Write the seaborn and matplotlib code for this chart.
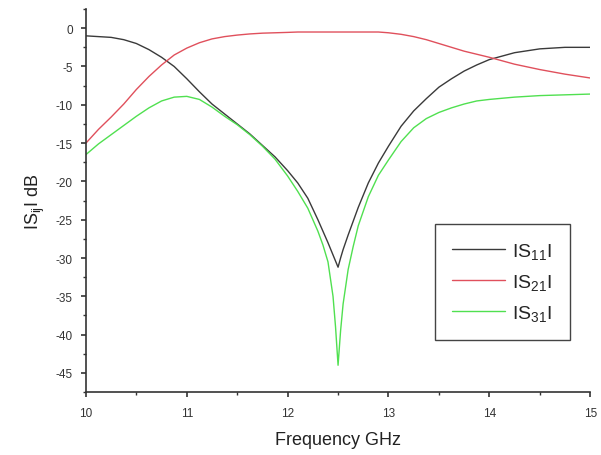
import matplotlib
matplotlib.use('Agg')
import matplotlib.pyplot as plt
from matplotlib.ticker import MultipleLocator
import pandas as pd
import seaborn as sns

# frequency grid (GHz), denser around the resonance
freq = [10.0, 10.125, 10.25, 10.375, 10.5, 10.625, 10.75, 10.875, 11.0, 11.125,
        11.25, 11.375, 11.5, 11.625, 11.75, 11.875, 12.0, 12.1, 12.2, 12.3,
        12.35, 12.4, 12.45, 12.475, 12.5, 12.525, 12.55, 12.6, 12.65, 12.7,
        12.8, 12.9, 13.0, 13.125, 13.25, 13.375, 13.5, 13.625, 13.75, 13.875,
        14.0, 14.25, 14.5, 14.75, 15.0]

s11 = [-1.0, -1.1, -1.2, -1.5, -2.0, -2.8, -3.8, -5.0, -6.6, -8.3,
       -9.9, -11.2, -12.5, -13.8, -15.3, -16.8, -18.6, -20.2, -22.2, -25.0,
       -26.5, -28.0, -29.6, -30.4, -31.2, -30.0, -28.9, -27.0, -25.2, -23.4,
       -20.2, -17.6, -15.4, -12.8, -10.8, -9.2, -7.7, -6.6, -5.6, -4.8,
       -4.1, -3.2, -2.7, -2.5, -2.5]

s21 = [-15.0, -13.2, -11.6, -9.9, -8.0, -6.3, -4.8, -3.5, -2.6, -1.9,
       -1.4, -1.1, -0.9, -0.75, -0.65, -0.6, -0.55, -0.5, -0.5, -0.5,
       -0.5, -0.5, -0.5, -0.5, -0.5, -0.5, -0.5, -0.5, -0.5, -0.5,
       -0.5, -0.5, -0.6, -0.8, -1.1, -1.5, -2.0, -2.5, -3.0, -3.4,
       -3.8, -4.7, -5.4, -6.0, -6.5]

s31 = [-16.5, -15.1, -13.9, -12.7, -11.5, -10.4, -9.5, -9.0, -8.9, -9.3,
       -10.3, -11.5, -12.6, -13.9, -15.4, -17.1, -19.3, -21.3, -23.5, -26.5,
       -28.3, -30.5, -35.0, -39.0, -44.0, -39.5, -36.0, -31.5, -28.5, -25.8,
       -22.0, -19.2, -17.2, -14.8, -13.0, -11.8, -11.0, -10.4, -9.9, -9.5,
       -9.3, -9.0, -8.8, -8.7, -8.6]

labels = ['IS$_{11}$I', 'IS$_{21}$I', 'IS$_{31}$I']
colors = ['#3a3a3a', '#e0505c', '#50e050']

df = pd.concat([
    pd.DataFrame({'freq': freq, 'db': vals, 'param': lab})
    for vals, lab in zip((s11, s21, s31), labels)
])

sns.set_style('ticks')
plt.rcParams['font.family'] = ['Liberation Sans', 'DejaVu Sans']
plt.rcParams['mathtext.fontset'] = 'custom'
plt.rcParams['mathtext.rm'] = 'Liberation Sans'
plt.rcParams['mathtext.it'] = 'Liberation Sans'
plt.rcParams['axes.unicode_minus'] = False

fig = plt.figure(figsize=(6.01, 4.56), dpi=100)
ax = fig.add_axes([0.143, 0.138, 0.839, 0.840])

sns.lineplot(data=df, x='freq', y='db', hue='param', palette=colors,
             linewidth=1.0, ax=ax, legend=False)

ax.set_xlim(10, 15)
ax.set_ylim(-47.5, 2.5)
ax.xaxis.set_major_locator(MultipleLocator(1))
ax.xaxis.set_minor_locator(MultipleLocator(0.5))
ax.yaxis.set_major_locator(MultipleLocator(5))
ax.yaxis.set_minor_locator(MultipleLocator(2.5))
ax.tick_params(which='major', length=3.5, width=1.2, color='#333333',
               labelsize=8.5, labelcolor='#333333')
ax.tick_params(axis='x', which='major', pad=7)
ax.tick_params(axis='y', which='major', pad=6)
ax.tick_params(which='minor', length=2.5, width=1.0, color='#333333')
for s in ('left', 'bottom'):
    ax.spines[s].set_linewidth(1.2)
    ax.spines[s].set_color('#333333')
sns.despine(ax=ax)

ax.set_xlabel('Frequency GHz', fontsize=13, color='#222222', labelpad=9)
ax.set_ylabel('IS$_{ij}$I dB', fontsize=13, color='#222222', labelpad=6)

handles = [plt.Line2D([], [], color=c, lw=1.0) for c in colors]
leg = ax.legend(handles, labels, loc='upper left', bbox_to_anchor=(0.672, 0.465),
                fontsize=14, handlelength=2.7, handletextpad=0.4, fancybox=False,
                framealpha=1, edgecolor='#444444', labelspacing=0.55,
                borderpad=0.9)
leg.get_frame().set_linewidth(1.0)

fig.savefig('out.png', dpi=100)
